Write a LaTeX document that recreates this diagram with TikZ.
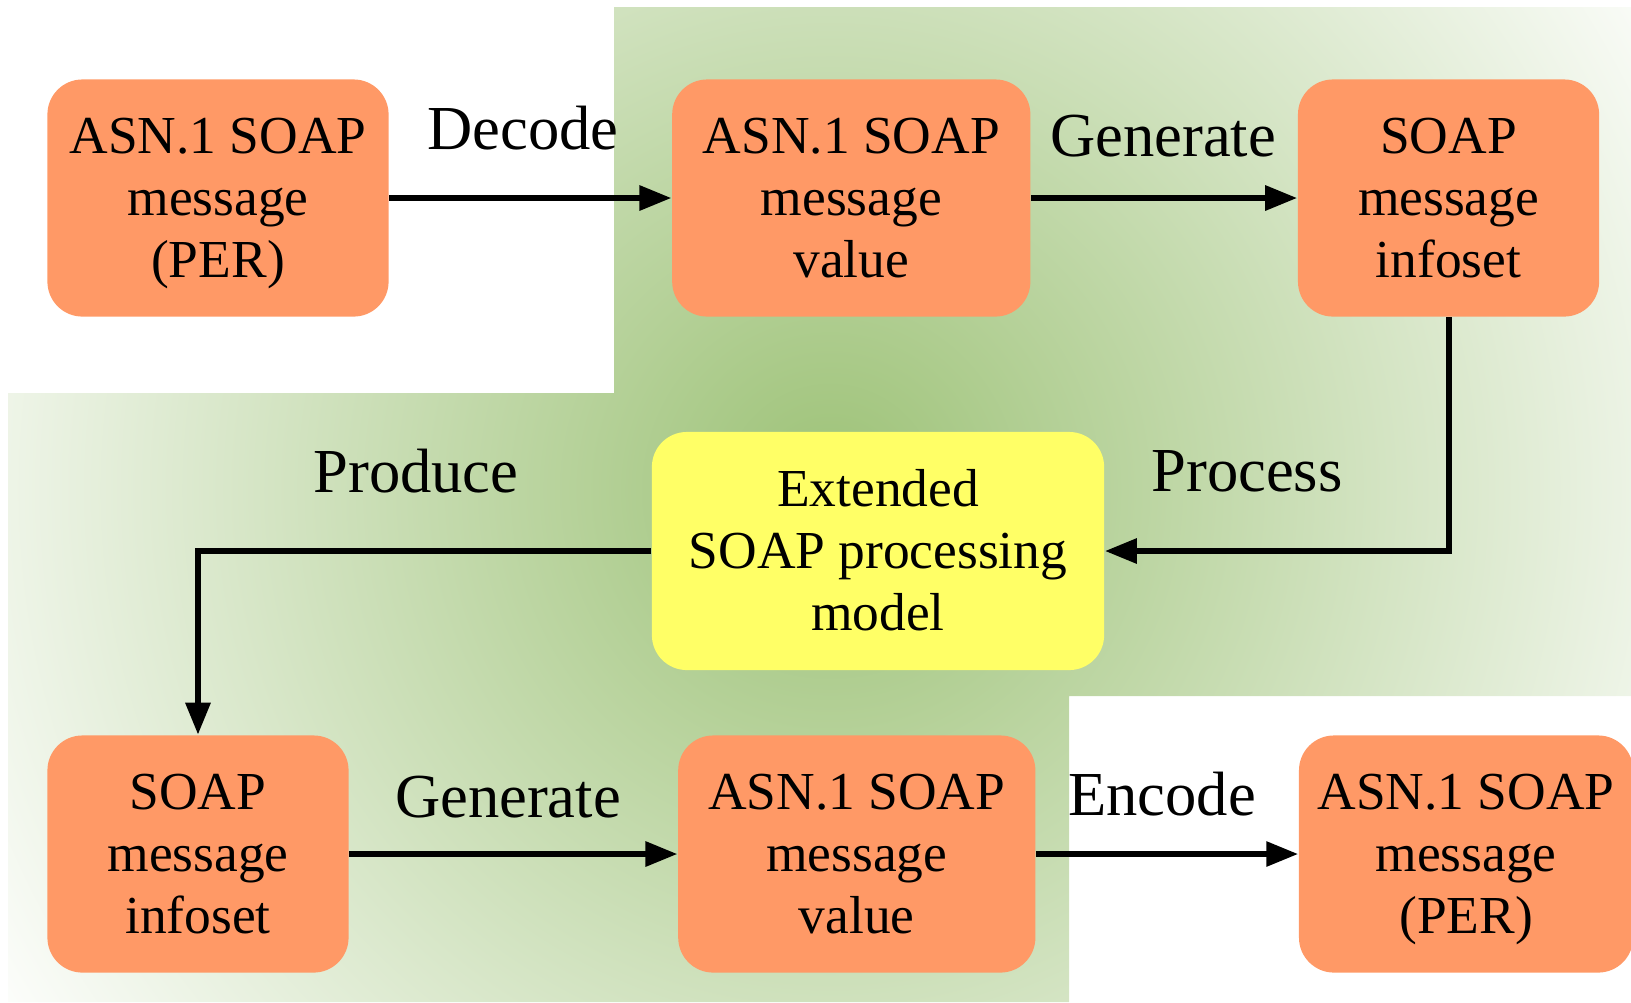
\documentclass[tikz,border=0pt]{standalone}
\usepackage{fontspec}
\setmainfont{Liberation Serif}
\usetikzlibrary{positioning,arrows.meta}

\definecolor{msgorange}{HTML}{FF9966}
\definecolor{procyellow}{HTML}{FFFF66}
\definecolor{glowgreen}{HTML}{9DC277}
\pgfdeclareradialshading{bgglow}{\pgfpoint{0bp}{0bp}}{color(0bp)=(glowgreen); color(25bp)=(white); color(50bp)=(white)}

\begin{document}
\begin{tikzpicture}[x=0.01cm,y=-0.01cm]
	\tikzstyle{msg} = [rectangle, rounded corners=0.35cm, fill=msgorange, minimum height=2.37cm, inner sep=0pt, align=center, font=\fontsize{15.2}{17.7}\selectfont, execute at begin node={\rule[-0.12cm]{0pt}{1.83cm}}]
	\tikzstyle{proc} = [msg, fill=procyellow, minimum width=4.52cm, minimum height=2.38cm]
	\tikzstyle{lbl} = [anchor=base, inner sep=0pt, font=\fontsize{17.8}{20}\selectfont]
	\tikzstyle{arrow} = [line width=1.7pt, -{Triangle[length=0.32cm,width=0.24cm]}]
  \useasboundingbox (0,0) rectangle (1631,1002);

  % green background
  \begin{scope}
    \clip (614,7) -- (1631,7) -- (1631,696) -- (1069,696) -- (1069,1002) -- (8,1002) -- (8,393) -- (614,393) -- cycle;
    \shade[shading=bgglow] (830,490) circle (10cm);
  \end{scope}

  % upper row
  \node(asnper)[msg, minimum width=3.41cm] at (218,198) {ASN.1 SOAP\\message\\(PER)};
  \node(asnval)[msg, minimum width=3.58cm, right=2.82cm of asnper] {ASN.1 SOAP\\message\\value};
  \node(infoset)[msg, minimum width=3.01cm, right=2.66cm of asnval] {SOAP\\message\\infoset};

  \node(ext)[proc] at (878,551) {Extended\\SOAP processing\\model};

  % lower row
  \node(infosetb)[msg, minimum width=3.01cm] at (198,854) {SOAP\\message\\infoset};
  \node(asnvalb)[msg, minimum width=3.57cm, right=3.28cm of infosetb] {ASN.1 SOAP\\message\\value};
  \node(asnperb)[msg, minimum width=3.34cm, right=2.62cm of asnvalb] {ASN.1 SOAP\\message\\(PER)};

  \node(decode)[lbl] at (523,149) {Decode};
  \node(generate)[lbl] at (1163,156) {Generate};
  \node(process)[lbl] at (1247,491) {Process};
  \node(produce)[lbl] at (416,492) {Produce};
  \node(generateb)[lbl] at (508,817) {Generate};
  \node(encode)[lbl] at (1162,815) {Encode};

  \draw [arrow] (asnper) -- (asnval);
  \draw [arrow] (asnval) -- (infoset);
  \draw [arrow] (infoset.south) |- (ext.east);
  \draw [arrow] (ext.west) -| (infosetb.north);
  \draw [arrow] (infosetb) -- (asnvalb);
  \draw [arrow] (asnvalb) -- (asnperb);
\end{tikzpicture}
\end{document}
